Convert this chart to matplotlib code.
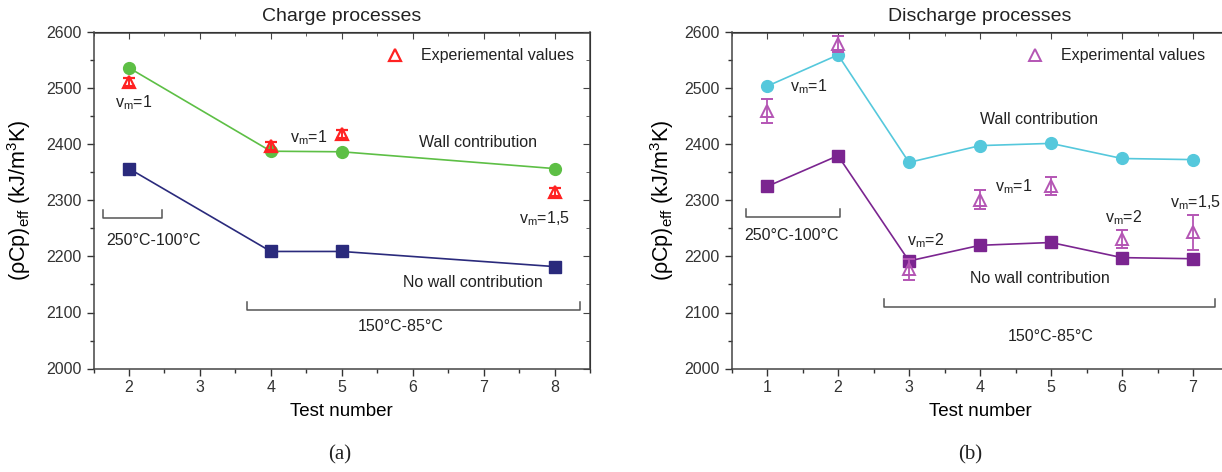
import matplotlib
matplotlib.use("Agg")
import matplotlib.pyplot as plt
from matplotlib.lines import Line2D
from matplotlib.ticker import MultipleLocator

plt.rcParams['font.family'] = ['Liberation Sans', 'DejaVu Sans']
plt.rcParams['mathtext.fontset'] = 'custom'
plt.rcParams['mathtext.rm'] = 'Liberation Sans'
plt.rcParams['mathtext.it'] = 'Liberation Sans:italic'
plt.rcParams['text.color'] = '#222222'

# --- (a) Charge processes ---
charge_tests = [2, 4, 5, 8]
charge_wall = [2537, 2388, 2387, 2357]
charge_nowall = [2357, 2209, 2209, 2182]
charge_exp = [2511, 2398, 2419, 2315]
charge_err = [7, 7, 7, 7]

# --- (b) Discharge processes ---
dis_tests = [1, 2, 3, 4, 5, 6, 7]
dis_wall = [2504, 2560, 2368, 2398, 2402, 2375, 2373]
dis_nowall = [2325, 2380, 2192, 2220, 2225, 2198, 2196]
dis_exp = [2460, 2579, 2177, 2301, 2326, 2231, 2243]
dis_err = [21, 14, 19, 17, 16, 16, 31]

W, H = 1222, 472
fig = plt.figure(figsize=(W / 100, H / 100), dpi=100)

ax1 = fig.add_axes([93.5 / W, 103.5 / H, 496.5 / W, 336 / H])
ax2 = fig.add_axes([731.5 / W, 103.5 / H, 497 / W, 336 / H])


def style_axes(ax, xlim):
    ax.set_xlim(*xlim)
    ax.set_ylim(2000, 2600)
    ax.xaxis.set_major_locator(MultipleLocator(1))
    ax.xaxis.set_minor_locator(MultipleLocator(0.5))
    ax.yaxis.set_major_locator(MultipleLocator(100))
    ax.yaxis.set_minor_locator(MultipleLocator(50))
    ax.tick_params(which='both', direction='out', top=False, right=False,
                   labelsize=11.5, colors='#333333', width=1)
    ax.tick_params(which='major', length=5)
    ax.tick_params(which='minor', length=3)
    for s in ax.spines.values():
        s.set_color('#444444')
        s.set_linewidth(1.1)
    # mirrored ticks pointing inward on top and right
    top = ax.secondary_xaxis('top')
    top.xaxis.set_major_locator(MultipleLocator(1))
    top.xaxis.set_minor_locator(MultipleLocator(0.5))
    top.tick_params(which='both', direction='in', labeltop=False, colors='#444444')
    top.tick_params(which='major', length=5)
    top.tick_params(which='minor', length=3)
    right = ax.secondary_yaxis('right')
    right.yaxis.set_major_locator(MultipleLocator(100))
    right.yaxis.set_minor_locator(MultipleLocator(50))
    right.tick_params(which='both', direction='in', labelright=False, colors='#444444')
    right.tick_params(which='major', length=5)
    right.tick_params(which='minor', length=3)
    ax.set_xlabel('Test number', fontsize=13.5)
    ax.set_ylabel('(ρCp)$_{\\mathrm{eff}}$ (kJ/m$^{3}$K)', fontsize=15.5)


def bracket(ax, x0, x1, y, h):
    ax.plot([x0, x0, x1, x1], [y + h, y, y, y + h], color='#555555', lw=1.1)


# ---------- panel (a) ----------
style_axes(ax1, (1.5, 8.5))
ax1.plot(charge_tests, charge_wall, '-o', color='#5dbf45', lw=1.2, ms=8.5)
ax1.plot(charge_tests, charge_nowall, '-s', color='#2a2a7c', lw=1.2, ms=8)
ax1.errorbar(charge_tests, charge_exp, yerr=charge_err, fmt='^', color='#ff2222',
             mfc='none', mew=1.6, ms=8, capsize=4.5, elinewidth=1.4, capthick=1.4)
ax1.set_title('Charge processes', fontsize=14, pad=8)
h1 = Line2D([], [], ls='none', marker='^', color='#ff2222', mfc='none', mew=1.6, ms=8.5)
ax1.legend([h1], ['Experiemental values'], loc='upper right', frameon=False,
           fontsize=11.5, handletextpad=0.6, borderaxespad=0.6)

ax1.text(1.8, 2474, 'v$_{\\mathrm{m}}$=1', fontsize=11.5, va='center')
ax1.text(4.27, 2413, 'v$_{\\mathrm{m}}$=1', fontsize=11.5, va='center')
ax1.text(7.5, 2268, 'v$_{\\mathrm{m}}$=1,5', fontsize=11.5, va='center')
ax1.text(6.92, 2404, 'Wall contribution', fontsize=11.5, ha='center', va='center')
ax1.text(6.85, 2154, 'No wall contribution', fontsize=11.5, ha='center', va='center')
ax1.text(2.35, 2229, '250°C-100°C', fontsize=11.5, ha='center', va='center')
ax1.text(5.83, 2075, '150°C-85°C', fontsize=11.5, ha='center', va='center')
bracket(ax1, 1.63, 2.47, 2268, 15)
bracket(ax1, 3.67, 8.36, 2104, 14)
ax1.yaxis.set_label_coords(-0.122, 0.5)
ax1.xaxis.set_label_coords(0.5, -0.103)

# ---------- panel (b) ----------
style_axes(ax2, (0.5, 7.5))
ax2.plot(dis_tests, dis_wall, '-o', color='#55c8dc', lw=1.2, ms=8.5)
ax2.plot(dis_tests, dis_nowall, '-s', color='#7b2590', lw=1.2, ms=8)
ax2.errorbar(dis_tests, dis_exp, yerr=dis_err, fmt='^', color='#b455b4',
             mfc='none', mew=1.4, ms=8, capsize=4.5, elinewidth=1.3, capthick=1.3)
ax2.set_title('Discharge processes', fontsize=14, pad=8)
h2 = Line2D([], [], ls='none', marker='^', color='#b455b4', mfc='none', mew=1.4, ms=8.5)
ax2.legend([h2], ['Experimental values'], loc='upper right', frameon=False,
           fontsize=11.5, handletextpad=0.6, borderaxespad=0.6,
           bbox_to_anchor=(0.985, 1.0))

ax2.text(1.32, 2503, 'v$_{\\mathrm{m}}$=1', fontsize=11.5, va='center')
ax2.text(4.21, 2324, 'v$_{\\mathrm{m}}$=1', fontsize=11.5, va='center')
ax2.text(2.97, 2228, 'v$_{\\mathrm{m}}$=2', fontsize=11.5, va='center')
ax2.text(5.76, 2270, 'v$_{\\mathrm{m}}$=2', fontsize=11.5, va='center')
ax2.text(6.68, 2297, 'v$_{\\mathrm{m}}$=1,5', fontsize=11.5, va='center')
ax2.text(4.83, 2444, 'Wall contribution', fontsize=11.5, ha='center', va='center')
ax2.text(4.85, 2161, 'No wall contribution', fontsize=11.5, ha='center', va='center')
ax2.text(1.34, 2238, '250°C-100°C', fontsize=11.5, ha='center', va='center')
ax2.text(5.0, 2058, '150°C-85°C', fontsize=11.5, ha='center', va='center')
bracket(ax2, 0.7, 2.03, 2270, 15)
bracket(ax2, 2.65, 7.31, 2110, 14)
ax2.yaxis.set_label_coords(-0.112, 0.5)
ax2.xaxis.set_label_coords(0.5, -0.103)

fig.text(340 / W, 17 / H, '(a)', fontsize=15, family=['Liberation Serif'],
         ha='center', va='center')
fig.text(970 / W, 17 / H, '(b)', fontsize=15, family=['Liberation Serif'],
         ha='center', va='center')

fig.savefig('out.png', dpi=100)
